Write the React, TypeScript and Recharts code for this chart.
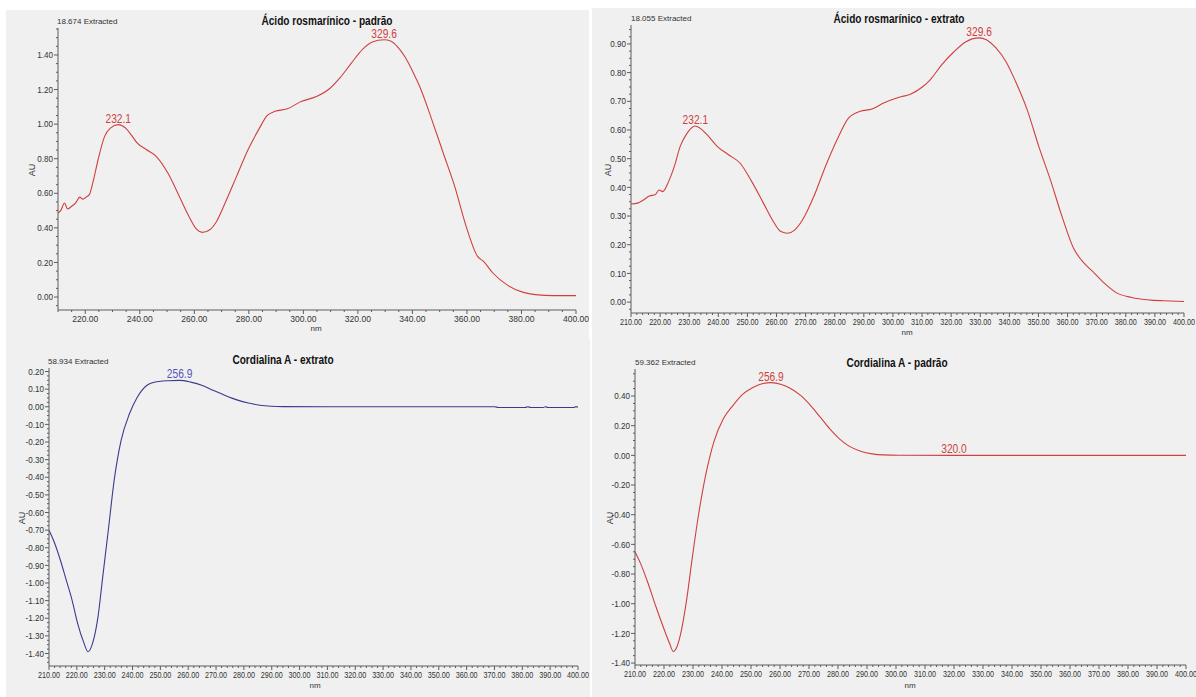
import { LineChart, Line, XAxis, YAxis, ReferenceDot } from "recharts";

const FONT = "'Liberation Sans', Arial, sans-serif";
const PANEL_BG = "#f0f0f0";
const FRAME = "#5c5c5c";
const TEXT = "#333333";
const RED = "#cf4040";
const BLUE = "#3b3b8f";
const BLUE_LABEL = "#5656b0";

// Ácido rosmarínico - padrão
const rosPadraoNm = [
  210, 211, 212.4, 213.5, 215, 216.5, 218, 219.1, 220.5, 221.5, 222.9, 224.7, 227.1, 229.2, 232.1, 234.8,
  237, 239, 242.5, 246, 250.3, 254.5, 258, 260.8, 262.9, 265.7, 267.8, 271.3, 275.5, 279.7, 283.9, 286.7,
  289.6, 293.8, 299.4, 305, 309.9, 313.4, 317.6, 321.8, 325.3, 329.6, 332, 334.4, 337.3, 340.1, 342.9,
  347.1, 351.3, 355.5, 359.7, 363.9, 366.1, 369.5, 375.1, 380.7, 385, 392, 400,
];
const rosPadraoAu = [
  0.486, 0.5, 0.544, 0.509, 0.525, 0.545, 0.578, 0.566, 0.58, 0.592, 0.669, 0.794, 0.929, 0.977, 0.997, 0.977,
  0.935, 0.891, 0.852, 0.814, 0.717, 0.582, 0.467, 0.393, 0.374, 0.389, 0.428, 0.544, 0.698, 0.852, 0.977, 1.049,
  1.074, 1.087, 1.132, 1.161, 1.209, 1.267, 1.353, 1.434, 1.475, 1.488, 1.481, 1.45, 1.388, 1.305, 1.209,
  1.026, 0.833, 0.64, 0.409, 0.235, 0.206, 0.139, 0.066, 0.027, 0.014, 0.008, 0.008,
];
const rosPadraoPeaks = [232.1, 329.6];
const rosPadraoXTicks = [220, 240, 260, 280, 300, 320, 340, 360, 380, 400];
const rosPadraoYTicks = [0, 0.2, 0.4, 0.6, 0.8, 1.0, 1.2, 1.4];

// Ácido rosmarínico - extrato
const rosExtratoNm = [
  210, 212.3, 214.3, 216.3, 218.3, 219.6, 220.9, 222.9, 224.9, 226.9, 228.9, 232.1, 233.6, 236.2, 239.6,
  243.6, 247.5, 251.5, 255.5, 258.9, 261.5, 263.8, 266.2, 268.9, 272.8, 276.8, 280.8, 284.8, 288.8, 292.8,
  296.8, 302.1, 306, 310.1, 312.8, 316.8, 320.8, 324.8, 329.6, 332.1, 335.4, 338.8, 342.1, 346.1, 350.1,
  354.1, 358.1, 362.1, 364.7, 368.7, 372.7, 376.7, 382, 388.7, 395.3, 400,
];
const rosExtratoAu = [
  0.342, 0.345, 0.356, 0.37, 0.374, 0.391, 0.385, 0.42, 0.473, 0.543, 0.583, 0.614, 0.607, 0.583, 0.543,
  0.513, 0.484, 0.42, 0.345, 0.281, 0.246, 0.24, 0.251, 0.286, 0.368, 0.473, 0.566, 0.642, 0.665, 0.673,
  0.694, 0.714, 0.725, 0.75, 0.775, 0.828, 0.871, 0.906, 0.921, 0.915, 0.886, 0.839, 0.77, 0.671, 0.543,
  0.426, 0.298, 0.187, 0.147, 0.106, 0.065, 0.033, 0.016, 0.007, 0.004, 0.002,
];
const rosExtratoPeaks = [232.1, 329.6];
const tenNmTicks = [210, 220, 230, 240, 250, 260, 270, 280, 290, 300, 310, 320, 330, 340, 350, 360, 370, 380, 390, 400];
const rosExtratoYTicks = [0, 0.1, 0.2, 0.3, 0.4, 0.5, 0.6, 0.7, 0.8, 0.9];

// Cordialina A - extrato
const cordExtratoNm = [
  210, 212.1, 214.1, 216.2, 218.3, 220.3, 222.4, 224, 225.8, 227.6, 229.3, 231.3, 233.4, 235.9, 238.9,
  241.7, 245.1, 248.6, 252.7, 256.9, 260.9, 265.1, 269.2, 273.3, 277.5, 281.6, 285.7, 289.9, 294, 310,
  330, 350, 370, 371.5, 381, 382, 383, 387.5, 388.3, 389.2, 398.5, 399.3, 400,
];
const cordExtratoAu = [
  -0.701, -0.777, -0.871, -0.984, -1.098, -1.23, -1.334, -1.39, -1.334, -1.192, -0.965, -0.701, -0.418, -0.191, -0.04,
  0.054, 0.121, 0.142, 0.148, 0.15, 0.14, 0.121, 0.092, 0.064, 0.039, 0.021, 0.009, 0.003, 0.001, 0.0,
  0.0, 0.0, 0.0, -0.004, -0.004, 0.0, -0.004, -0.004, 0.0, -0.004, -0.004, 0.001, -0.003,
];
const cordExtratoPeaks = [256.9];
const cordExtratoYTicks = [
  0.2, 0.1, 0, -0.1, -0.2, -0.3, -0.4, -0.5, -0.6, -0.7, -0.8, -0.9, -1.0, -1.1, -1.2, -1.3, -1.4,
];

// Cordialina A - padrão
const cordPadraoNm = [
  210, 211.9, 214.5, 217.2, 219.9, 221.9, 223.2, 224.5, 225.8, 227.8, 229.8, 231.8, 234.5, 237.2, 240.5,
  243.8, 247.1, 250.5, 253.8, 256.9, 260.5, 263.8, 267.1, 270.5, 273.8, 277.1, 280.4, 283.8, 287.8, 291.8,
  295.7, 301.1, 320, 360, 400,
];
const cordPadraoAu = [
  -0.649, -0.728, -0.862, -1.019, -1.165, -1.266, -1.322, -1.288, -1.198, -0.974, -0.683, -0.414, -0.122, 0.091, 0.248,
  0.337, 0.411, 0.456, 0.483, 0.49, 0.478, 0.449, 0.404, 0.337, 0.259, 0.18, 0.113, 0.062, 0.028, 0.01,
  0.003, 0.001, 0.0, 0.0, 0.0,
];
const cordPadraoPeaks = [256.9, 320.0];
const cordPadraoYTicks = [0.4, 0.2, 0, -0.2, -0.4, -0.6, -0.8, -1.0, -1.2, -1.4];

type Point = { nm: number; au: number };
type Rect = { x: number; y: number; w: number; h: number };

const toPoints = (nm: number[], au: number[]): Point[] => nm.map((v, i) => ({ nm: v, au: au[i] }));

// evenly spaced minor tick marks between the labelled ones
const minorTicks = (from: number, to: number, step: number) => {
  const out: number[] = [];
  for (let v = from; v <= to + step / 2; v += step) out.push(Math.round(v * 10000) / 10000);
  return out;
};

const isMajor = (v: number, majors: number[]) => majors.some((m) => Math.abs(m - v) < 1e-6);

// the instrument software uses a condensed face, so labels get squeezed horizontally
const makeYTick = (majors: number[], sx: number) => (props: any) => {
  const { x, y, payload } = props;
  const major = isMajor(payload.value, majors);
  return (
    <g>
      <line x1={x} x2={x - (major ? 4 : 2)} y1={y} y2={y} stroke={FRAME} />
      {major && (
        <text
          transform={`translate(${x - 5} ${y}) scale(${sx} 1)`}
          dy="0.35em"
          textAnchor="end"
          fontSize={9}
          fill={TEXT}
          fontFamily={FONT}
        >
          {payload.value.toFixed(2)}
        </text>
      )}
    </g>
  );
};

const makeXTick = (majors: number[], sx: number) => (props: any) => {
  const { x, y, payload } = props;
  const major = isMajor(payload.value, majors);
  return (
    <g>
      <line x1={x} x2={x} y1={y} y2={y + (major ? 4 : 2)} stroke={FRAME} />
      {major && (
        <text
          transform={`translate(${x} ${y + 5}) scale(${sx} 1)`}
          dy="0.75em"
          textAnchor="middle"
          fontSize={9}
          fill={TEXT}
          fontFamily={FONT}
        >
          {payload.value.toFixed(2)}
        </text>
      )}
    </g>
  );
};

const peakLabel = (text: string, color: string) => (props: any) => {
  const { viewBox } = props;
  const cx = viewBox.x + viewBox.width / 2;
  return (
    <text
      transform={`translate(${cx} ${viewBox.y - 2}) scale(0.85 1)`}
      textAnchor="middle"
      fontSize={12}
      fill={color}
      fontFamily={FONT}
    >
      {text}
    </text>
  );
};

type PanelProps = {
  box: Rect;
  plot: Rect;
  data: Point[];
  peaks: number[];
  color: string;
  labelColor: string;
  yDomain: [number, number];
  xMajor: number[];
  xMinor: number[];
  yMajor: number[];
  yMinor: number[];
  xLabelScale: number;
};

function SpectrumPanel({ box, plot, data, peaks, color, labelColor, yDomain, xMajor, xMinor, yMajor, yMinor, xLabelScale }: PanelProps) {
  const axisH = 20;
  const margin = {
    top: plot.y - box.y,
    left: 0,
    right: box.x + box.w - (plot.x + plot.w),
    bottom: box.y + box.h - (plot.y + plot.h) - axisH,
  };
  const peakPoints = peaks.map((p) => data.find((d) => Math.abs(d.nm - p) < 1e-6) as Point);
  return (
    <div style={{ position: "absolute", left: box.x, top: box.y, width: box.w, height: box.h, background: PANEL_BG }}>
      <LineChart width={box.w} height={box.h} data={data} margin={margin}>
        <XAxis
          xAxisId="x"
          type="number"
          dataKey="nm"
          domain={[210, 400]}
          allowDataOverflow
          ticks={xMinor}
          interval={0}
          tickLine={false}
          tickSize={0}
          tickMargin={0}
          height={axisH}
          axisLine={{ stroke: FRAME }}
          tick={makeXTick(xMajor, xLabelScale)}
        />
        <XAxis xAxisId="top" orientation="top" type="number" domain={[210, 400]} height={0} tick={false} tickLine={false} axisLine={{ stroke: FRAME }} />
        <YAxis
          yAxisId="y"
          type="number"
          domain={yDomain}
          allowDataOverflow
          ticks={yMinor}
          interval={0}
          tickLine={false}
          tickSize={0}
          tickMargin={0}
          width={plot.x - box.x}
          axisLine={{ stroke: FRAME }}
          tick={makeYTick(yMajor, 0.9)}
        />
        <YAxis yAxisId="right" orientation="right" type="number" domain={yDomain} width={0} tick={false} tickLine={false} axisLine={{ stroke: FRAME }} />
        <Line
          xAxisId="x"
          yAxisId="y"
          type="monotone"
          dataKey="au"
          stroke={color}
          strokeWidth={1.1}
          dot={false}
          isAnimationActive={false}
        />
        {peakPoints.map((p) => (
          <ReferenceDot
            key={p.nm}
            xAxisId="x"
            yAxisId="y"
            x={p.nm}
            y={p.au}
            r={0}
            fill="none"
            stroke="none"
            label={peakLabel(p.nm.toFixed(1), labelColor)}
          />
        ))}
      </LineChart>
    </div>
  );
}

type TxtProps = {
  x: number;
  y: number;
  children: string;
  size?: number;
  bold?: boolean;
  left?: boolean;
  vertical?: boolean;
  squeeze?: number;
  color?: string;
};

function Txt({ x, y, children, size = 9, bold = false, left = false, vertical = false, squeeze = 1, color = TEXT }: TxtProps) {
  const shift = left ? "translate(0,-50%)" : "translate(-50%,-50%)";
  const extra = vertical ? " rotate(-90deg)" : squeeze !== 1 ? ` scaleX(${squeeze})` : "";
  return (
    <div
      style={{
        position: "absolute",
        left: x,
        top: y,
        transform: shift + extra,
        transformOrigin: left ? "0 50%" : "50% 50%",
        fontFamily: FONT,
        fontSize: size,
        fontWeight: bold ? 700 : 400,
        color,
        whiteSpace: "nowrap",
        lineHeight: 1,
      }}
    >
      {children}
    </div>
  );
}

export default function App() {
  return (
    <div style={{ position: "absolute", left: 0, top: 0, width: 1196, height: 697, background: "#ffffff", overflow: "hidden" }}>
      <SpectrumPanel
        box={{ x: 6, y: 10, w: 583, h: 329 }}
        plot={{ x: 58, y: 28, w: 518, h: 282 }}
        data={toPoints(rosPadraoNm, rosPadraoAu)}
        peaks={rosPadraoPeaks}
        color={RED}
        labelColor={RED}
        yDomain={[-0.075, 1.556]}
        xMajor={rosPadraoXTicks}
        xMinor={minorTicks(210, 400, 5)}
        yMajor={rosPadraoYTicks}
        yMinor={minorTicks(-0.05, 1.55, 0.05)}
        xLabelScale={0.95}
      />
      <SpectrumPanel
        box={{ x: 592, y: 8, w: 604, h: 334 }}
        plot={{ x: 631, y: 25, w: 553, h: 288 }}
        data={toPoints(rosExtratoNm, rosExtratoAu)}
        peaks={rosExtratoPeaks}
        color={RED}
        labelColor={RED}
        yDomain={[-0.038, 0.966]}
        xMajor={tenNmTicks}
        xMinor={minorTicks(210, 400, 2)}
        yMajor={rosExtratoYTicks}
        yMinor={minorTicks(-0.025, 0.95, 0.025)}
        xLabelScale={0.8}
      />
      <SpectrumPanel
        box={{ x: 6, y: 339, w: 584, h: 358 }}
        plot={{ x: 49, y: 368, w: 529, h: 298 }}
        data={toPoints(cordExtratoNm, cordExtratoAu)}
        peaks={cordExtratoPeaks}
        color={BLUE}
        labelColor={BLUE_LABEL}
        yDomain={[-1.471, 0.22]}
        xMajor={tenNmTicks}
        xMinor={minorTicks(210, 400, 2)}
        yMajor={cordExtratoYTicks}
        yMinor={minorTicks(-1.45, 0.2, 0.025)}
        xLabelScale={0.8}
      />
      <SpectrumPanel
        box={{ x: 592, y: 342, w: 604, h: 355 }}
        plot={{ x: 635, y: 369, w: 551, h: 296 }}
        data={toPoints(cordPadraoNm, cordPadraoAu)}
        peaks={cordPadraoPeaks}
        color={RED}
        labelColor={RED}
        yDomain={[-1.413, 0.582]}
        xMajor={tenNmTicks}
        xMinor={minorTicks(210, 400, 2)}
        yMajor={cordPadraoYTicks}
        yMinor={minorTicks(-1.4, 0.55, 0.05)}
        xLabelScale={0.8}
      />

      <Txt x={327} y={21} size={12} bold squeeze={0.84} color="#111">Ácido rosmarínico - padrão</Txt>
      <Txt x={899} y={19} size={12} bold squeeze={0.84} color="#111">Ácido rosmarínico - extrato</Txt>
      <Txt x={283} y={360} size={12} bold squeeze={0.84} color="#111">Cordialina A - extrato</Txt>
      <Txt x={897} y={363} size={12} bold squeeze={0.84} color="#111">Cordialina A - padrão</Txt>

      <Txt x={57} y={22} size={8} left>18.674 Extracted</Txt>
      <Txt x={631} y={19} size={8} left>18.055 Extracted</Txt>
      <Txt x={48} y={362} size={8} left>58.934 Extracted</Txt>
      <Txt x={635} y={363} size={8} left>59.362 Extracted</Txt>

      <Txt x={32} y={170} size={9} vertical>AU</Txt>
      <Txt x={608} y={170} size={9} vertical>AU</Txt>
      <Txt x={22} y={518} size={9} vertical>AU</Txt>
      <Txt x={610} y={518} size={9} vertical>AU</Txt>

      <Txt x={316} y={329} size={8}>nm</Txt>
      <Txt x={907} y={333} size={8}>nm</Txt>
      <Txt x={315} y={686} size={8}>nm</Txt>
      <Txt x={910} y={686} size={8}>nm</Txt>
    </div>
  );
}
